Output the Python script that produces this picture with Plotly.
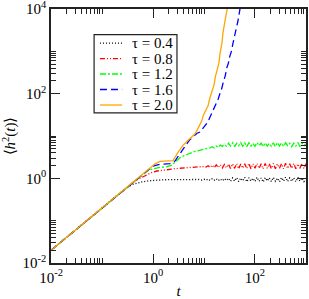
import numpy as np
import plotly.graph_objects as go

# ---------------- data ----------------
tau_labels = ["0.4", "0.8", "1.2", "1.6", "2.0"]

# tau = 0.4 (black)
t_04 = [0.01, 0.3, 0.4, 0.5, 0.6, 0.8, 1.0, 1.5, 2.0, 3.0]
h_04 = [0.02, 0.6, 0.72, 0.78, 0.82, 0.87, 0.9, 0.92, 0.93, 0.93]
h_04_tail = [0.93, 0.94, 0.93, 0.92, 0.94, 0.93, 0.95, 0.92, 0.94, 0.91, 0.95,
             0.90, 0.96, 0.89, 0.97, 0.90, 0.98, 0.88, 0.97, 0.87, 0.99, 0.89, 1.00,
             0.85, 1.02, 0.86, 1.04, 0.84, 1.01, 0.87, 1.05, 0.83, 1.03, 0.86, 1.00,
             0.84, 1.06, 0.85, 1.02, 0.82, 1.04, 0.87, 1.03, 0.84, 1.05, 0.85, 1.01,
             0.83, 1.04, 0.86, 1.06, 0.84, 1.02, 0.85, 1.03, 0.83, 1.05, 0.86, 1.02,
             0.84, 1.00]

# tau = 0.8 (red)
t_08 = [0.01, 0.45, 0.55, 0.65, 0.8, 0.94, 1.2, 1.5, 2.0, 2.7, 3.4]
h_08 = [0.02, 0.88, 0.99, 1.1, 1.24, 1.37, 1.49, 1.56, 1.63, 1.69, 1.73]
h_08_tail = [1.76, 1.78, 1.79, 1.80, 1.82, 1.83, 1.85, 1.86, 1.88, 1.84, 1.93, 1.85,
             1.98, 1.80, 2.05, 1.78, 2.08, 1.79, 2.10, 1.76, 2.12, 1.77, 2.15,
             1.70, 2.20, 1.72, 2.24, 1.68, 2.18, 1.74, 2.22, 1.70, 2.26, 1.69, 2.19,
             1.73, 2.23, 1.71, 2.20, 1.67, 2.25, 1.72, 2.21, 1.70, 2.24, 1.69, 2.18,
             1.73, 2.22, 1.68, 2.26, 1.71, 2.20, 1.72, 2.23, 1.69, 2.19, 1.74, 2.24,
             1.70, 2.21]

# tau = 1.2 (green)
t_12 = [0.01, 0.6, 0.75, 0.9, 1.09, 1.3, 1.72, 2.3, 3.1, 3.4, 4.2, 5.3]
h_12 = [0.02, 1.2, 1.45, 1.62, 1.75, 1.8, 1.85, 2.03, 2.77, 3.1, 3.5, 3.95]
h_12_tail = [4.3, 4.42, 4.48, 4.63, 4.68, 4.88, 4.97, 5.13, 5.22,
             5.6, 5.25, 5.8, 5.4, 6.1, 5.7, 6.3,
             5.7, 6.8, 5.8, 6.9, 5.6, 6.7, 5.9, 7.0, 5.7, 6.8, 5.6, 6.9, 5.8, 6.7,
             5.7, 7.0, 5.9, 6.8, 5.6, 6.9, 5.8, 6.7, 5.7, 6.9, 5.6, 7.0, 5.8, 6.8,
             5.7, 6.9, 5.9, 6.7, 5.6, 6.8, 5.8, 7.0, 5.7, 6.8, 5.9, 6.6]

# tau = 1.6 (blue)
t_16 = [0.01, 0.5, 0.8, 1.0, 1.37, 2.15, 2.7, 3.39, 4.24, 5.32, 6.3, 7.3, 8.35,
        9.8, 11.4, 12.2, 13.0, 14.0, 15.0, 16.2, 17.5, 19.0, 20.6, 22.2, 24.0,
        26.0, 28.2, 30.0, 32.0, 34.5, 37.0, 40.0, 43.0, 46.0, 50.6, 56.0]
h_16 = [0.02, 1.0, 1.58, 1.95, 2.14, 2.22, 2.56, 3.9, 5.7, 8.3, 10.2, 11.6, 12.4,
        15.5, 20, 23, 27, 32, 40.5, 48, 58, 75, 102, 130, 190,
        260, 420, 520, 760, 1000, 1550, 2200, 3500, 5000, 9340, 20000]

# tau = 2.0 (orange)
t_20 = [0.01, 1.1, 1.37, 1.8, 2.47, 3.09, 3.87, 4.86, 5.81, 6.5, 7.3, 8.35,
        9.0, 9.8, 11.4, 12.0, 13.0, 14.2, 15.0, 15.8, 16.8, 17.8, 18.8, 19.6,
        20.6, 21.6, 22.5, 23.5, 24.4, 25.4, 26.4, 28.2, 31.0]
h_20 = [0.02, 2.2, 2.52, 2.6, 2.62, 4.12, 6.03, 7.9, 9.3, 10.8, 13.6, 20,
        22.5, 32, 47.7, 52, 78, 110, 142, 165, 260, 330, 420, 520,
        900, 1250, 1550, 2680, 3300, 5000, 6200, 9340, 25000]

x_tickvals = [0.01, 1, 100]
x_ticktext = ["10<sup>-2</sup>", "10<sup>0</sup>", "10<sup>2</sup>"]
y_tickvals = [0.01, 1, 100, 10000]
y_ticktext = ["10<sup>-2</sup>", "10<sup>0</sup>", "10<sup>2</sup>", "10<sup>4</sup>"]
x_minor = [0.02, 0.03, 0.04, 0.05, 0.06, 0.07, 0.08, 0.09, 0.1,
           2, 3, 4, 5, 6, 7, 8, 9, 10,
           200, 300, 400, 500, 600, 700, 800, 900, 1000]
y_minor = [0.02, 0.03, 0.04, 0.05, 0.06, 0.07, 0.08, 0.09, 0.1,
           2, 3, 4, 5, 6, 7, 8, 9, 10,
           200, 300, 400, 500, 600, 700, 800, 900, 1000]

# ---------------- figure ----------------
FONT = "Liberation Serif, Times New Roman, serif"
colors = ["#000000", "#ff0000", "#00ff00", "#0000ff", "#ffa500"]
dashes = ["1px,2px", "5px,2px,1px,2px,1px,2px", "6px,2px,2px,2px", "7px,4px", "solid"]

series = [
    (list(t_04) + list(np.logspace(0.6, 3, len(h_04_tail))), h_04 + h_04_tail),
    (list(t_08) + list(np.logspace(0.6, 3, len(h_08_tail))), h_08 + h_08_tail),
    (list(t_12) + list(np.logspace(0.8, 3, len(h_12_tail))), h_12 + h_12_tail),
    (t_16, h_16),
    (t_20, h_20),
]

fig = go.Figure()
for (tx, hy), lab, c, d in zip(series, tau_labels, colors, dashes):
    fig.add_trace(go.Scatter(x=tx, y=hy, mode="lines", name="τ = " + lab,
                             line=dict(color=c, width=1.3, dash=d),
                             showlegend=False))

# manual legend (box, samples, labels) in paper coordinates
L_x0, L_x1, L_y0, L_y1 = 0.169, 0.494, 0.591, 0.899
row_y = [0.866, 0.805, 0.744, 0.683, 0.622]
fig.add_shape(type="rect", xref="paper", yref="paper", x0=L_x0, x1=L_x1,
              y0=L_y0, y1=L_y1, line=dict(color="#222", width=1.2),
              fillcolor="white", layer="above")
for ry, lab, c, d in zip(row_y, tau_labels, colors, dashes):
    fig.add_shape(type="line", xref="paper", yref="paper", x0=0.192, x1=0.279,
                  y0=ry, y1=ry, line=dict(color=c, width=1.3, dash=d), layer="above")
    fig.add_annotation(xref="paper", yref="paper", x=0.31, y=ry, xanchor="left",
                       yanchor="middle", text="τ = " + lab, showarrow=False,
                       font=dict(family=FONT, size=15, color="black"))

axis_common = dict(type="log", showline=True, linecolor="#222", linewidth=1.5,
                   mirror="allticks", ticks="inside", ticklen=9, tickwidth=1,
                   tickcolor="#222", showgrid=False, zeroline=False, automargin=False,
                   ticklabeloverflow="allow",
                   tickfont=dict(family=FONT, size=15, color="black"))

fig.update_xaxes(range=[-2.0002, 3.0002], tickmode="array", tickvals=x_tickvals,
                 ticktext=x_ticktext,
                 minor=dict(tickmode="array", tickvals=x_minor, ticks="inside",
                            ticklen=5, tickwidth=1, tickcolor="#222"),
                 title=dict(text="<i>t</i>", font=dict(family=FONT, size=15, color="black"),
                            standoff=2),
                 **axis_common)
fig.update_yaxes(range=[-2.0002, 4.0002], tickmode="array", tickvals=y_tickvals,
                 ticktext=y_ticktext,
                 minor=dict(tickmode="array", tickvals=y_minor, ticks="inside",
                            ticklen=5, tickwidth=1, tickcolor="#222"),
                 title=dict(text="⟨<i>h</i><sup>2</sup>(<i>t</i>)⟩",
                            font=dict(family=FONT, size=15, color="black"),
                            standoff=5),
                 **axis_common)

fig.update_layout(width=309, height=299, margin=dict(l=51, r=3, t=9, b=36),
                  plot_bgcolor="white", paper_bgcolor="white",
                  font=dict(family=FONT, size=15, color="black"))

fig.write_html("out.html", config={"displayModeBar": False},
               post_script="document.body.style.margin='0';document.body.style.padding='0';")
